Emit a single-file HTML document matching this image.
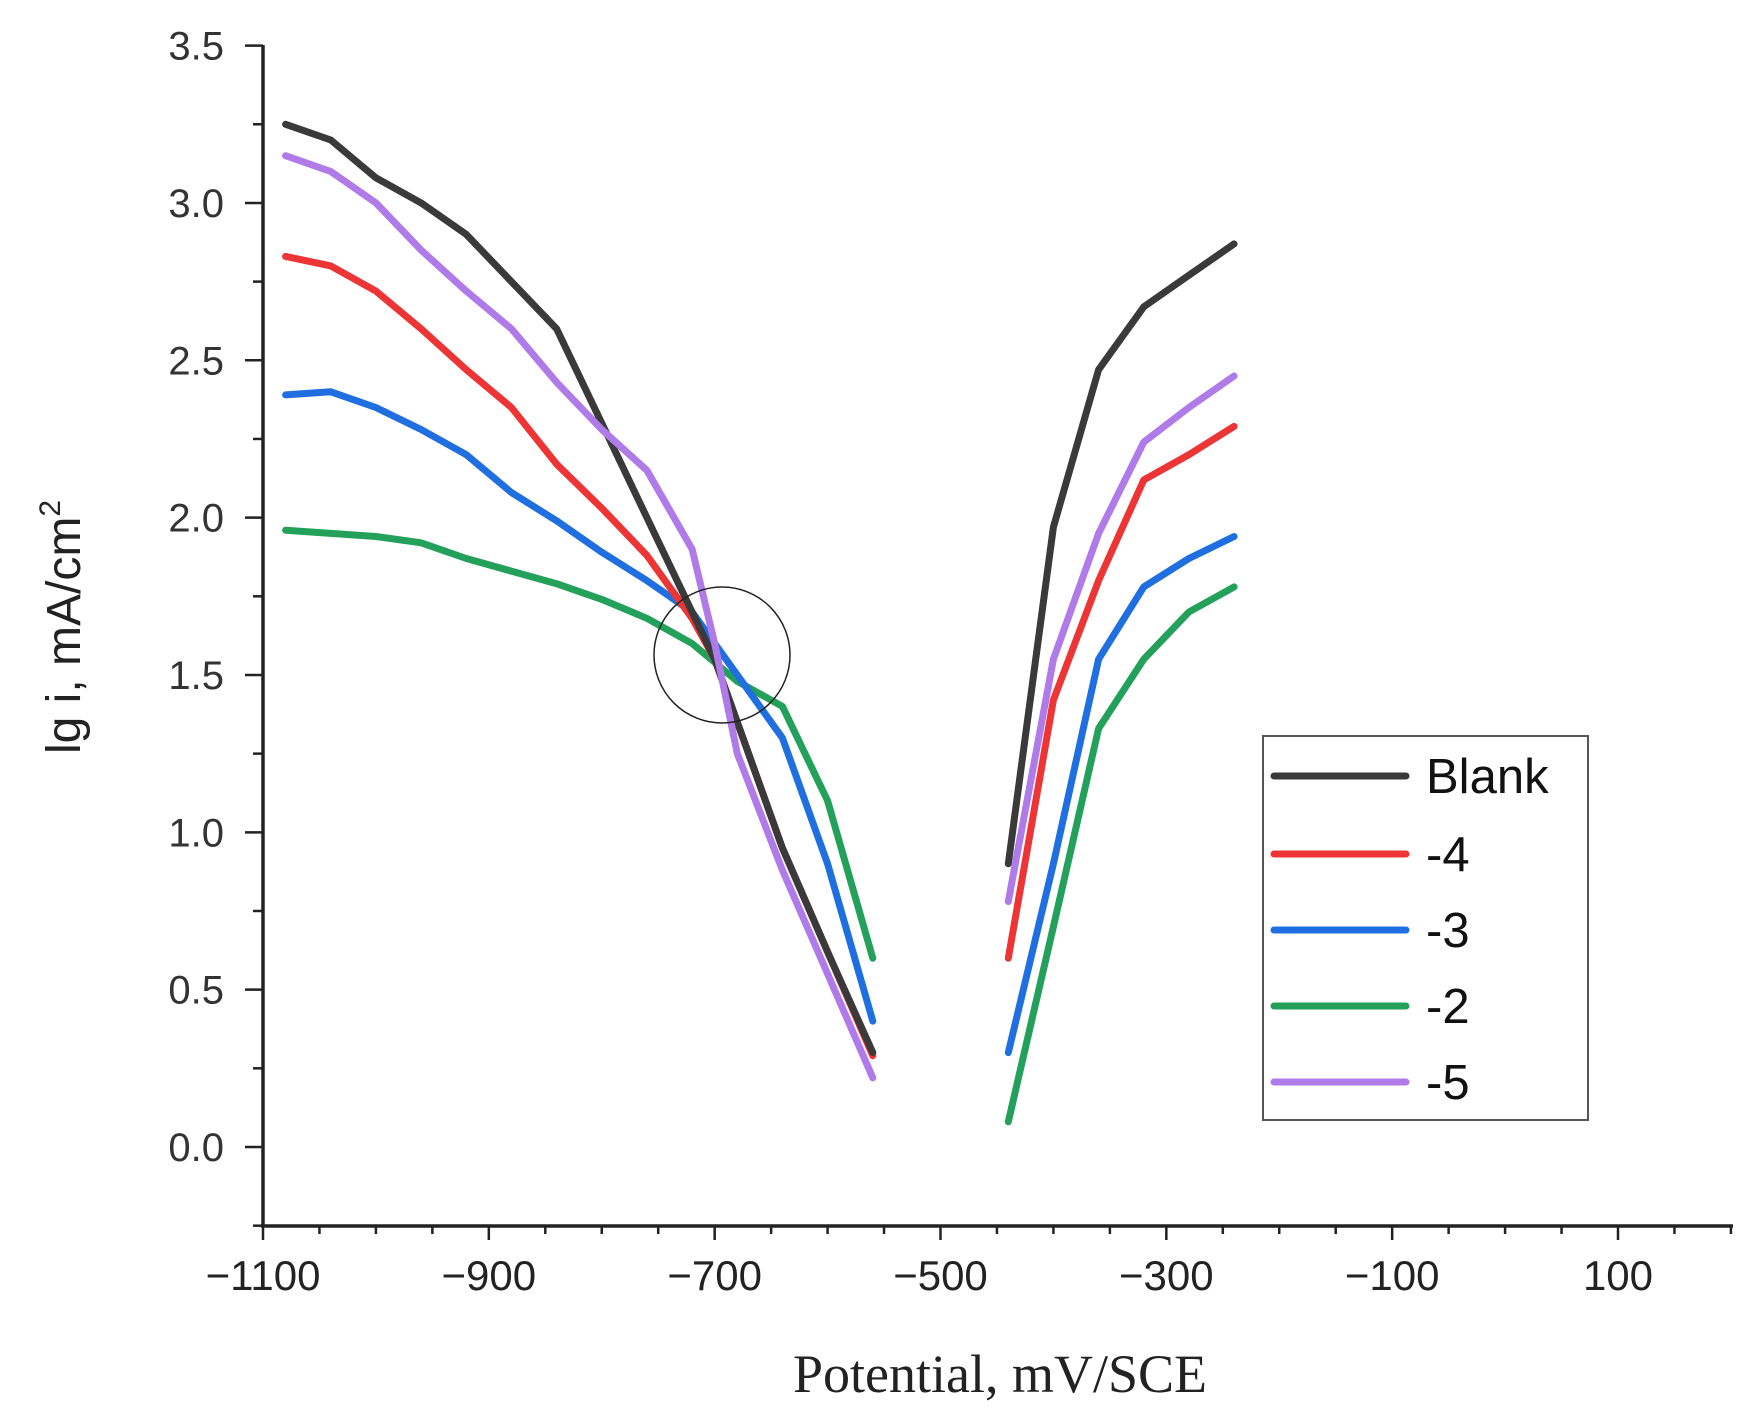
<!DOCTYPE html>
<html><head><meta charset="utf-8"><style>body{margin:0;background:#fff}svg{display:block}</style></head>
<body>
<svg id="chart" width="1747" height="1413" viewBox="0 0 1747 1413" xmlns="http://www.w3.org/2000/svg"></svg>
<script>
const xTicks=[-1100,-900,-700,-500,-300,-100,100];
const xTickLabels=["\u22121100","\u2212900","\u2212700","\u2212500","\u2212300","\u2212100","100"];
const yTicks=[0,0.5,1,1.5,2,2.5,3,3.5];
const yTickLabels=["0.0","0.5","1.0","1.5","2.0","2.5","3.0","3.5"];
const seriesNames=["Blank","-4","-3","-2","-5"];
const seriesColors=["#3a3a3a","#ee3535","#1f6fe0","#23a05a","#b07ae8"];
const blankLeftX=[-1080,-1040,-1000,-960,-920,-880,-840,-800,-760,-720,-700,-680,-640,-600,-560];
const blankLeftY=[3.25,3.2,3.08,3.0,2.9,2.75,2.6,2.3,2.0,1.7,1.55,1.35,0.95,0.62,0.3];
const blankRightX=[-440,-400,-360,-320,-280,-240];
const blankRightY=[0.9,1.97,2.47,2.67,2.77,2.87];
const m4LeftX=[-1080,-1040,-1000,-960,-920,-880,-840,-800,-760,-720,-700,-680,-640,-600,-560];
const m4LeftY=[2.83,2.8,2.72,2.6,2.47,2.35,2.17,2.03,1.88,1.68,1.55,1.35,0.95,0.62,0.29];
const m4RightX=[-440,-400,-360,-320,-280,-240];
const m4RightY=[0.6,1.42,1.8,2.12,2.2,2.29];
const m3LeftX=[-1080,-1040,-1000,-960,-920,-880,-840,-800,-760,-720,-680,-640,-600,-560];
const m3LeftY=[2.39,2.4,2.35,2.28,2.2,2.08,1.99,1.89,1.8,1.7,1.5,1.3,0.9,0.4];
const m3RightX=[-440,-400,-360,-320,-280,-240];
const m3RightY=[0.3,0.9,1.55,1.78,1.87,1.94];
const m2LeftX=[-1080,-1040,-1000,-960,-920,-880,-840,-800,-760,-720,-680,-640,-600,-560];
const m2LeftY=[1.96,1.95,1.94,1.92,1.87,1.83,1.79,1.74,1.68,1.6,1.48,1.4,1.1,0.6];
const m2RightX=[-440,-400,-360,-320,-280,-240];
const m2RightY=[0.08,0.7,1.33,1.55,1.7,1.78];
const m5LeftX=[-1080,-1040,-1000,-960,-920,-880,-840,-800,-760,-720,-700,-680,-640,-600,-560];
const m5LeftY=[3.15,3.1,3.0,2.85,2.72,2.6,2.43,2.28,2.15,1.9,1.6,1.25,0.88,0.55,0.22];
const m5RightX=[-440,-400,-360,-320,-280,-240];
const m5RightY=[0.78,1.55,1.95,2.24,2.35,2.45];

const NS="http://www.w3.org/2000/svg";
const svg=document.getElementById('chart');
const X0=263,XS=(1618-263)/1200,Y0=1147,YS=(1147-45.6)/3.5;
function xs(v){return X0+(v+1100)*XS;}
function ys(v){return Y0-v*YS;}
function mk(tag,attrs,parent){const e=document.createElementNS(NS,tag);for(const k in attrs)e.setAttribute(k,attrs[k]);(parent||svg).appendChild(e);return e;}

const yAxis=mk('line',{x1:X0,y1:45,x2:X0,y2:1226,stroke:'#222','stroke-width':3.5});


const xAxis=mk('line',{x1:X0-2,y1:1226,x2:1733,y2:1226,stroke:'#222','stroke-width':3.5});



for(let v=-1100;v<=200;v+=50){
  const major=(v+1100)%200===0;
  const t=mk('line',{x1:xs(v),y1:1226,x2:xs(v),y2:1226+(major?14:8),stroke:'#222','stroke-width':2.5});
  
  
}
xTicks.forEach((v,i)=>{
  const t=mk('text',{x:xs(v),y:1290,'text-anchor':'middle','font-family':'Liberation Sans, sans-serif','font-size':42,fill:'#222'});
  t.textContent=xTickLabels[i];
  
  
});
for(let v=-0.25;v<=3.5001;v+=0.25){
  const major=Math.abs(v*2-Math.round(v*2))<1e-6;
  const t=mk('line',{x1:X0-(major?18:10),y1:ys(v),x2:X0,y2:ys(v),stroke:'#222','stroke-width':2.5});
  
  
}
yTicks.forEach((v,i)=>{
  const t=mk('text',{x:224,y:ys(v)+14,'text-anchor':'end','font-family':'Liberation Sans, sans-serif','font-size':40,fill:'#333'});
  t.textContent=yTickLabels[i];
  
  
});

const segs=[[blankLeftX,blankLeftY,blankRightX,blankRightY],[m4LeftX,m4LeftY,m4RightX,m4RightY],[m3LeftX,m3LeftY,m3RightX,m3RightY],[m2LeftX,m2LeftY,m2RightX,m2RightY],[m5LeftX,m5LeftY,m5RightX,m5RightY]];
const order=[3,2,1,0,4];
order.forEach(i=>{
  const s=segs[i];
  [[s[0],s[1]],[s[2],s[3]]].forEach(([xa,ya],j)=>{
    const d=xa.map((x,k)=>(k?'L':'M')+xs(x).toFixed(1)+','+ys(ya[k]).toFixed(1)).join(' ');
    const p=mk('path',{d:d,fill:'none',stroke:seriesColors[i],'stroke-width':7,'stroke-linejoin':'round','stroke-linecap':'round'});
    
    
  });
});

const circ=mk('circle',{cx:722,cy:655,r:68,fill:'none',stroke:'#222','stroke-width':1.5});



const lg=mk('g',{});


mk('rect',{x:1263,y:736,width:325,height:384,fill:'#fff',stroke:'#555','stroke-width':2},lg);
const ly=[776,854,930,1006,1082];
seriesNames.forEach((n,i)=>{
  const l=mk('line',{x1:1274,y1:ly[i],x2:1406,y2:ly[i],stroke:seriesColors[i],'stroke-width':7,'stroke-linecap':'round'},lg);
  
  
  const t=mk('text',{x:1426,y:ly[i]+17,'font-family':'Liberation Sans, sans-serif','font-size':49,fill:'#111'},lg);
  t.textContent=n;
  
  
});

const xt=mk('text',{x:1000,y:1392,'text-anchor':'middle','font-family':'Liberation Serif, serif','font-size':54,fill:'#222'});
xt.textContent='Potential, mV/SCE';


const yt=mk('text',{x:0,y:0,'text-anchor':'middle','font-family':'Liberation Sans, sans-serif','font-size':48,fill:'#222',transform:'translate(80,627) rotate(-90)'});
yt.innerHTML='lg i, mA/cm<tspan dy="-20" font-size="30">2</tspan>';


</script>
</body></html>
